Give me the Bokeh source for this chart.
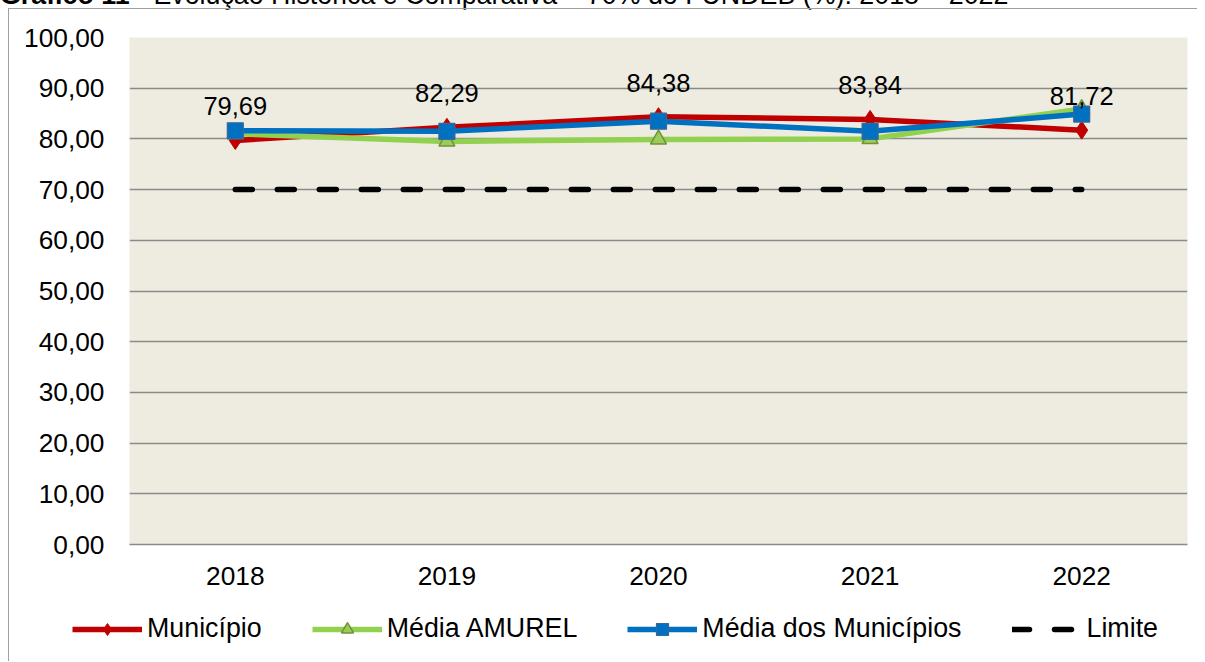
from bokeh.plotting import figure
from bokeh.models import FactorRange, Range1d, FixedTicker, Legend, LegendItem, ColumnDataSource, Div
from bokeh.layouts import column
from bokeh.embed import file_html
from bokeh.resources import INLINE
from bokeh.core.properties import value

# ---- data ----
years = ["2018", "2019", "2020", "2021", "2022"]
municipio = [79.69, 82.29, 84.38, 83.84, 81.72]
media_amurel = [81.0, 79.5, 79.9, 80.0, 85.9]
media_municipios = [81.6, 81.5, 83.5, 81.5, 84.9]
limite = [70.0, 70.0, 70.0, 70.0, 70.0]
municipio_labels = ["79,69", "82,29", "84,38", "83,84", "81,72"]
y_ticks = [0, 10, 20, 30, 40, 50, 60, 70, 80, 90, 100]
y_tick_labels = ["0,00", "10,00", "20,00", "30,00", "40,00", "50,00",
                 "60,00", "70,00", "80,00", "90,00", "100,00"]
series_names = ["Município", "Média AMUREL", "Média dos Municípios", "Limite"]
title_bold = "Gráfico 11 -"
title_rest = "Evolução Histórica e Comparativa – 70% do FUNDEB (%): 2018 – 2022"

FONT = "Liberation Sans"
BORDER = "1px solid #A0A0A0"

src = ColumnDataSource(dict(x=years, mun=municipio, amu=media_amurel,
                            med=media_municipios, lim=limite, lab=municipio_labels))

title_div = Div(
    text=('<div style="position:relative; top:-20px; left:0px; white-space:nowrap; '
          'font-family:\'Liberation Sans\'; font-size:26.8px; line-height:30px; color:#000;">'
          '<b>%s</b> %s</div>' % (title_bold, title_rest)),
    width=1197, height=8, margin=0, styles={"overflow": "visible"})


def add_series(fig):
    l_lim = fig.line("x", "lim", source=src, line_color="black", line_width=5.5,
                     line_dash="17 25", line_cap="round")
    l_mun = fig.line("x", "mun", source=src, line_color="#C00000", line_width=5.5)
    m_mun = fig.scatter("x", "mun", source=src, marker="diamond", size=18,
                        fill_color="#C00000", line_color="#C00000")
    l_amu = fig.line("x", "amu", source=src, line_color="#92D050", line_width=5.5)
    m_amu = fig.scatter("x", "amu", source=src, marker="triangle", size=16,
                        fill_color="#9BCB5A", line_color="#71923A", line_width=1.5)
    l_med = fig.line("x", "med", source=src, line_color="#0070C0", line_width=5.5)
    m_med = fig.scatter("x", "med", source=src, marker="square", size=16,
                        fill_color="#0070C0", line_color="#3A6796", line_width=1.2)
    return [[l_mun, m_mun], [l_amu, m_amu], [l_med, m_med], [l_lim]]

# ---- main chart ----
p = figure(width=1189, height=600, x_range=FactorRange(*years), y_range=Range1d(0, 100),
           output_backend="svg", toolbar_location=None,
           min_border_left=120, min_border_right=11, min_border_top=28, min_border_bottom=65,
           background_fill_color="#EEECE1", border_fill_color="white",
           margin=0, styles={"margin-left": "8px", "border-left": BORDER, "border-top": BORDER})
p.outline_line_color = None

p.xgrid.grid_line_color = None
p.ygrid.ticker = FixedTicker(ticks=y_ticks)
p.ygrid.grid_line_color = "#8A8A8A"
p.ygrid.grid_line_width = 1.6

p.yaxis.ticker = FixedTicker(ticks=y_ticks)
p.yaxis.major_label_overrides = {t: l for t, l in zip(y_ticks, y_tick_labels)}
p.yaxis.axis_line_color = None
p.yaxis.major_tick_line_color = None
p.yaxis.minor_tick_line_color = None
p.yaxis.major_label_standoff = 19
p.yaxis.major_label_text_font = FONT
p.yaxis.major_label_text_font_size = "26.3px"
p.yaxis.major_label_text_color = "black"

p.xaxis.axis_line_color = "#8A8A8A"
p.xaxis.axis_line_width = 1.6
p.xaxis.major_tick_line_color = None
p.xaxis.minor_tick_line_color = None
p.xaxis.major_label_standoff = 16
p.xaxis.major_label_text_font = FONT
p.xaxis.major_label_text_font_size = "26.3px"
p.xaxis.major_label_text_color = "black"

add_series(p)

p.text("x", "mun", text="lab", source=src, y_offset=-34,
       text_align="center", text_baseline="middle",
       text_font=value(FONT), text_font_size="25.5px", text_color="black")

# ---- legend strip (same series, drawn out of view; only the legend shows) ----
q = figure(width=1189, height=53, x_range=FactorRange(*years), y_range=Range1d(1000, 1001),
           output_backend="svg", toolbar_location=None,
           x_axis_location=None, y_axis_location=None,
           min_border_left=0, min_border_right=0, min_border_top=0, min_border_bottom=0,
           background_fill_color="white", border_fill_color="white",
           margin=0, styles={"margin-left": "8px", "border-left": BORDER})
q.outline_line_color = None
q.grid.visible = False
groups = add_series(q)

for fig in (p, q):
    try:
        fig.frame_align = False
    except Exception:
        pass

legend = Legend(items=[LegendItem(label=n, renderers=r) for n, r in zip(series_names, groups)],
                orientation="horizontal", location=(63, 17),
                glyph_width=70, glyph_height=30, label_height=30, label_standoff=5, spacing=50,
                padding=0, margin=0, background_fill_alpha=0, border_line_color=None,
                label_text_font=FONT, label_text_font_size="26.8px", label_text_color="black")
q.add_layout(legend, "center")

layout = column(title_div, p, q, spacing=0)
open("out.html", "w").write(file_html(layout, INLINE))
